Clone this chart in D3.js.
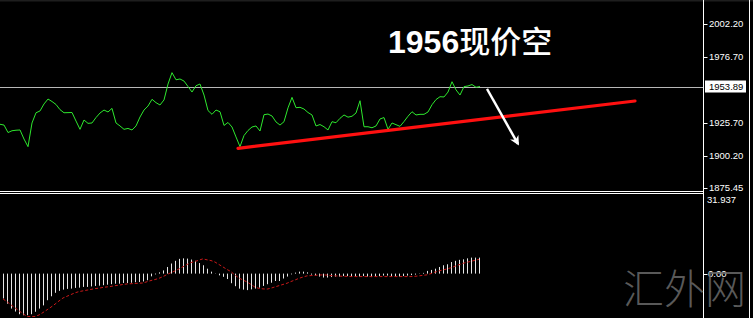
<!DOCTYPE html>
<html lang="zh">
<head>
<meta charset="UTF-8">
<title>Gold MACD</title>
<script src="https://d3js.org/d3.v7.min.js"></script>
<style>
  body { margin: 0; background: #000; }
  svg { display: block; }
  .tick-label { font: 9.5px "Liberation Sans", Arial, sans-serif; fill: #fff; }
</style>
</head>
<body>
<div id="chart"></div>
<script>
const width = 753, height = 318;

// closing prices, one per bar
const closes = [
  1924.7, 1924.1, 1918.3, 1919.7, 1920.1, 1920.3, 1913.3, 1907.4, 1925.7, 1933.6,
  1935.0, 1940.4, 1944.2, 1942.3, 1940.0, 1936.0, 1933.6, 1933.7, 1933.8, 1927.2,
  1920.8, 1928.0, 1925.4, 1925.7, 1929.9, 1933.4, 1935.7, 1934.2, 1937.0, 1925.7,
  1923.4, 1920.8, 1921.5, 1920.3, 1923.4, 1930.3, 1935.7, 1938.8, 1944.0, 1941.4,
  1939.6, 1943.5, 1955.8, 1964.6, 1959.1, 1959.7, 1958.1, 1953.9, 1949.6, 1954.5,
  1955.8, 1947.3, 1935.3, 1932.4, 1935.7, 1934.4, 1923.8, 1926.1, 1922.6, 1914.9,
  1907.4, 1916.0, 1919.9, 1922.6, 1923.4, 1919.5, 1932.1, 1932.6, 1931.1, 1926.5,
  1924.1, 1926.7, 1937.4, 1945.5, 1937.5, 1937.8, 1936.5, 1933.8, 1931.9, 1923.4,
  1924.5, 1922.8, 1920.3, 1926.7, 1925.9, 1929.3, 1931.9, 1930.2, 1930.9, 1933.4,
  1942.9, 1922.8, 1922.8, 1922.0, 1923.4, 1928.8, 1929.9, 1920.8, 1925.7, 1924.4,
  1923.1, 1926.8, 1930.9, 1934.4, 1931.9, 1932.4, 1932.4, 1934.2, 1939.8, 1943.8,
  1946.0, 1945.8, 1949.6, 1957.6, 1951.3, 1947.3, 1953.8, 1954.3, 1955.4, 1953.3,
  1953.89
];
const currentPrice = 1953.89;
const priceTicks = [2002.20, 1976.70, 1925.70, 1900.20, 1875.45];

// hand-drawn objects, in bar / price units
const trendLine = [{ bar: 59.5, price: 1906.1 }, { bar: 158.75, price: 1942.7 }];
const arrowLine = [{ bar: 121.75, price: 1952.0 }, { bar: 129.5, price: 1909.5 }];

// MACD main (histogram) and signal
const macdHist = [
  -10.1, -12.2, -14.2, -15.4, -16.5, -16.9, -16.9, -16.5, -15.5, -14.2,
  -12.9, -10.8, -9.2, -7.8, -7.0, -6.5, -6.2, -6.1, -5.8, -5.7,
  -5.4, -5.4, -5.2, -5.0, -4.9, -4.7, -4.5, -4.3, -4.1, -4.1,
  -3.8, -3.8, -3.7, -3.5, -3.4, -3.2, -2.7, -1.1, -0.3, 0.5,
  1.3, 2.7, 4.1, 5.2, 6.0, 6.2, 6.1, 5.7, 5.2, 4.3,
  3.4, 2.0, 0.8, -0.1, -0.7, -1.3, -2.2, -3.9, -5.1, -6.1,
  -6.5, -6.7, -6.4, -6.1, -5.7, -5.0, -4.3, -3.7, -3.0, -3.0,
  -2.0, -1.2, -0.3, 0.4, 0.8, 0.8, 0.5, -0.4, -0.8, -1.2,
  -1.6, -1.6, -1.4, -1.2, -1.2, -1.0, -1.0, -1.2, -1.2, -1.2,
  -1.0, -1.2, -1.4, -1.2, -1.0, -0.8, -0.8, -1.0, -1.2, -1.2,
  -1.0, -0.8, -0.6, -0.4, 0.1, 0.3, 1.1, 1.5, 2.0, 2.7,
  3.4, 3.8, 4.7, 5.2, 5.6, 5.8, 6.2, 6.5, 6.5, 6.5
];
const macdSignal = [
  -10.3, -11.4, -12.7, -13.9, -15.1, -16.3, -17.4, -17.4, -17.4, -16.8,
  -15.8, -14.7, -13.6, -12.4, -11.1, -9.9, -9.2, -8.5, -7.8, -7.3,
  -7.0, -6.7, -6.4, -6.1, -5.9, -5.6, -5.4, -5.2, -4.9, -4.7,
  -4.4, -4.2, -4.1, -4.0, -3.9, -3.8, -3.3, -2.8, -2.4, -1.9,
  -1.2, -0.4, 0.4, 1.1, 1.9, 2.8, 3.7, 4.5, 4.9, 5.5,
  6.0, 5.6, 5.3, 4.7, 3.7, 2.7, 1.7, 0.8, -0.6, -1.8,
  -2.6, -3.4, -4.4, -5.5, -6.0, -6.2, -6.3, -5.9, -5.4, -4.9,
  -4.4, -3.9, -3.2, -2.6, -1.9, -1.4, -0.9, -0.8, -0.7, -0.6,
  -0.5, -0.6, -0.8, -0.9, -1.0, -1.1, -1.1, -1.2, -1.2, -1.2,
  -1.2, -1.2, -1.2, -1.2, -1.2, -1.2, -1.2, -1.2, -1.2, -1.2,
  -1.2, -1.2, -1.2, -1.1, -0.9, -0.7, -0.5, 0.0, 0.6, 1.1,
  1.5, 1.9, 2.4, 3.0, 3.6, 4.2, 4.6, 5.0, 5.4, 5.8
];
const macdMax = 31.937, macdMin = -21.074;
const macdTicks = [macdMax, 0, macdMin];

const titleNum = "1956", titleText = "现价空";
const watermark = "汇外网";

const axisX = 703.5;

const svg = d3.select("#chart").append("svg")
  .attr("width", width)
  .attr("height", height);

svg.append("rect").attr("width", width).attr("height", height).attr("fill", "#000");
svg.append("rect").attr("width", width).attr("height", 1.5).attr("fill", "#1e1e1e");

const xLine = d3.scaleLinear().domain([0, 120]).range([0, 480]);
const xBar = d3.scaleLinear().domain([0, 119]).range([3, 479]);
const yPrice = d3.scaleLinear().domain([1875.45, 2002.20]).range([188, 24]);
const yMacd = d3.scaleLinear().domain([macdMin, macdMax]).range([325.5, 195]);

// current price line
svg.append("line")
  .attr("x1", 0).attr("x2", axisX)
  .attr("y1", Math.round(yPrice(currentPrice)) + 0.5)
  .attr("y2", Math.round(yPrice(currentPrice)) + 0.5)
  .attr("stroke", "#b8b8b8").attr("stroke-width", 1);

// price line
svg.append("path")
  .datum(closes)
  .attr("fill", "none")
  .attr("stroke", "#2ee82e")
  .attr("stroke-width", 1)
  .attr("d", d3.line().x((d, i) => xLine(i)).y(d => yPrice(d)));

// trend line
svg.append("line")
  .attr("x1", xLine(trendLine[0].bar)).attr("y1", yPrice(trendLine[0].price))
  .attr("x2", xLine(trendLine[1].bar)).attr("y2", yPrice(trendLine[1].price))
  .attr("stroke", "#ff1010").attr("stroke-width", 3.2).attr("stroke-linecap", "round");

// arrow
svg.append("defs").append("marker")
  .attr("id", "head")
  .attr("viewBox", "0 0 10 10")
  .attr("refX", 8).attr("refY", 5)
  .attr("markerWidth", 4).attr("markerHeight", 4)
  .attr("orient", "auto")
  .append("path").attr("d", "M0,0 L10,5 L0,10 L3,5 Z").attr("fill", "#fff");

svg.append("line")
  .attr("x1", xLine(arrowLine[0].bar)).attr("y1", yPrice(arrowLine[0].price))
  .attr("x2", xLine(arrowLine[1].bar)).attr("y2", yPrice(arrowLine[1].price))
  .attr("stroke", "#fff").attr("stroke-width", 2.4)
  .attr("marker-end", "url(#head)");

// title
const title = svg.append("text")
  .attr("x", 388).attr("y", 53)
  .attr("fill", "#fff");
title.append("tspan")
  .attr("font-family", "'Liberation Sans', Arial, sans-serif")
  .attr("font-weight", "bold").attr("font-size", 32)
  .text(titleNum);
title.append("tspan")
  .attr("font-family", "'Noto Sans CJK SC', sans-serif")
  .attr("font-weight", 500).attr("font-size", 31)
  .text(titleText);

// panel separators
[191.5, 193.5].forEach(y => {
  svg.append("line")
    .attr("x1", 0).attr("x2", axisX).attr("y1", y).attr("y2", y)
    .attr("stroke", "#fff").attr("stroke-width", 1);
});

// MACD histogram
svg.append("g")
  .selectAll("line")
  .data(macdHist)
  .join("line")
  .attr("x1", (d, i) => Math.round(xBar(i)) + 0.5)
  .attr("x2", (d, i) => Math.round(xBar(i)) + 0.5)
  .attr("y1", yMacd(0))
  .attr("y2", d => yMacd(d))
  .attr("stroke", "#e6e6e6").attr("stroke-width", 1);

// signal line
svg.append("path")
  .datum(macdSignal)
  .attr("fill", "none")
  .attr("stroke", "#c81818")
  .attr("stroke-width", 1)
  .attr("stroke-dasharray", "3,2")
  .attr("d", d3.line().x((d, i) => xBar(i)).y(d => yMacd(d)));

// right axis frame
svg.append("line")
  .attr("x1", axisX).attr("x2", axisX).attr("y1", 0).attr("y2", height)
  .attr("stroke", "#fff");
svg.append("line")
  .attr("x1", 749.5).attr("x2", 749.5).attr("y1", 0).attr("y2", height)
  .attr("stroke", "#fff");

// price ticks
const pt = svg.append("g");
pt.selectAll("line")
  .data(priceTicks)
  .join("line")
  .attr("x1", axisX).attr("x2", axisX + 4)
  .attr("y1", d => Math.round(yPrice(d)) + 0.5)
  .attr("y2", d => Math.round(yPrice(d)) + 0.5)
  .attr("stroke", "#fff");
pt.selectAll("text")
  .data(priceTicks)
  .join("text")
  .attr("class", "tick-label")
  .attr("x", 709)
  .attr("y", d => yPrice(d))
  .attr("dy", "0.35em")
  .text(d => d.toFixed(2));

// current price box
const cy = yPrice(currentPrice);
svg.append("rect")
  .attr("x", 705).attr("y", cy - 6).attr("width", 41).attr("height", 12)
  .attr("fill", "#fff");
svg.append("text")
  .attr("class", "tick-label")
  .attr("x", 709).attr("y", cy).attr("dy", "0.35em")
  .attr("fill", "#000").style("fill", "#000")
  .text(currentPrice.toFixed(2));

// MACD labels
svg.append("text")
  .attr("class", "tick-label")
  .attr("x", 707).attr("y", yMacd(macdTicks[0]) + 5).attr("dy", "0.35em")
  .text(macdTicks[0].toFixed(3));
svg.append("line")
  .attr("x1", axisX).attr("x2", axisX + 4)
  .attr("y1", Math.round(yMacd(0)) + 0.5).attr("y2", Math.round(yMacd(0)) + 0.5)
  .attr("stroke", "#fff");
svg.append("text")
  .attr("class", "tick-label")
  .attr("x", 708).attr("y", yMacd(0)).attr("dy", "0.35em")
  .text(macdTicks[1].toFixed(2));
svg.append("text")
  .attr("class", "tick-label")
  .attr("x", 707).attr("y", yMacd(macdTicks[2]) - 4).attr("dy", "0.35em")
  .text(macdTicks[2].toFixed(3));

// watermark
svg.append("text")
  .attr("x", 623).attr("y", 304)
  .attr("font-family", "'Noto Sans CJK SC', sans-serif")
  .attr("font-weight", 300)
  .attr("font-size", 41)
  .attr("fill", "#6a6a6a")
  .attr("fill-opacity", 0.85)
  .text(watermark);
</script>
</body>
</html>
